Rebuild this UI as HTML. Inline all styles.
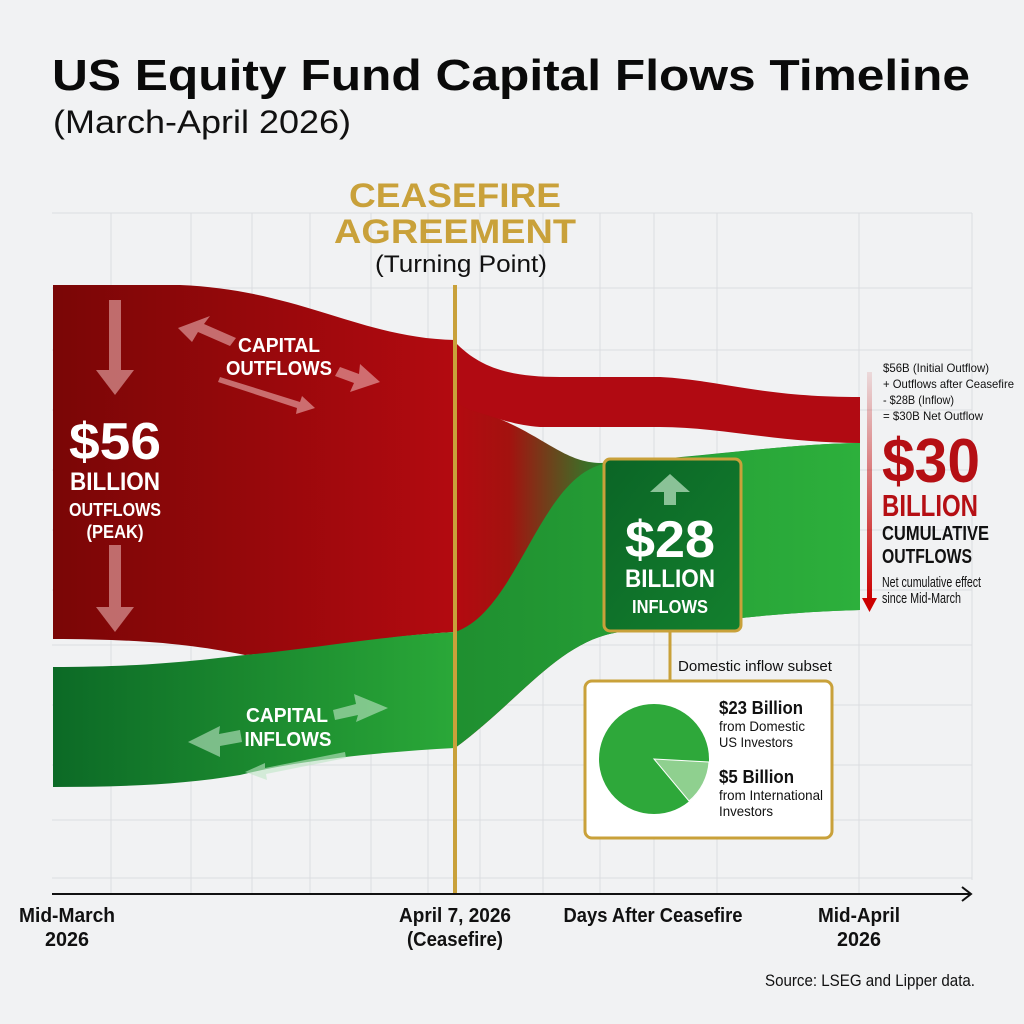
<!DOCTYPE html>
<html><head><meta charset="utf-8"><style>
html,body{margin:0;padding:0;background:#f1f2f3;}
svg{display:block;font-family:"Liberation Sans Narrow","Liberation Sans",sans-serif;}
</style></head><body>
<svg width="1024" height="1024" viewBox="0 0 1024 1024" xmlns="http://www.w3.org/2000/svg">
<defs>
<linearGradient id="redL" x1="0" x2="1" y1="0" y2="0"><stop offset="0" stop-color="#7a0606"/><stop offset="1" stop-color="#b30a10"/></linearGradient>
<linearGradient id="grnL" x1="0" x2="1" y1="0" y2="0"><stop offset="0" stop-color="#0c6a26"/><stop offset="1" stop-color="#2aa838"/></linearGradient>
<linearGradient id="wedge" x1="455" x2="610" y1="0" y2="0" gradientUnits="userSpaceOnUse"><stop offset="0" stop-color="#b30a10"/><stop offset="0.35" stop-color="#a3120f"/><stop offset="1" stop-color="#1e8a2e"/></linearGradient>
<linearGradient id="grnR" x1="0" x2="1" y1="0" y2="0"><stop offset="0" stop-color="#1f8f30"/><stop offset="1" stop-color="#2db03c"/></linearGradient>
<linearGradient id="boxg" x1="0" x2="1" y1="0" y2="1"><stop offset="0" stop-color="#0b6526"/><stop offset="1" stop-color="#13802e"/></linearGradient>
<linearGradient id="arrR" x1="0" x2="0" y1="0" y2="1"><stop offset="0" stop-color="#b00" stop-opacity="0.1"/><stop offset="1" stop-color="#c00"/></linearGradient>
</defs>
<!-- grid -->
<g stroke="#dcdde0" stroke-width="1">
<line x1="111" y1="213" x2="111" y2="893"/><line x1="191" y1="213" x2="191" y2="893"/><line x1="252" y1="213" x2="252" y2="893"/><line x1="310" y1="213" x2="310" y2="893"/><line x1="371" y1="213" x2="371" y2="893"/><line x1="428" y1="213" x2="428" y2="893"/><line x1="480" y1="213" x2="480" y2="893"/><line x1="543" y1="213" x2="543" y2="893"/><line x1="600" y1="213" x2="600" y2="893"/><line x1="654" y1="213" x2="654" y2="893"/><line x1="717" y1="213" x2="717" y2="893"/><line x1="859" y1="213" x2="859" y2="893"/><line x1="972" y1="213" x2="972" y2="880"/>
<line x1="52" y1="213" x2="972" y2="213"/><line x1="52" y1="288" x2="972" y2="288"/><line x1="52" y1="350" x2="972" y2="350"/><line x1="52" y1="410" x2="972" y2="410"/><line x1="52" y1="470" x2="972" y2="470"/><line x1="52" y1="530" x2="972" y2="530"/><line x1="52" y1="590" x2="972" y2="590"/><line x1="52" y1="645" x2="972" y2="645"/><line x1="52" y1="705" x2="972" y2="705"/><line x1="52" y1="765" x2="972" y2="765"/><line x1="52" y1="820" x2="972" y2="820"/><line x1="52" y1="878" x2="972" y2="878"/>
</g>
<!-- title -->
<text x="52" y="90" font-family="Liberation Sans" font-weight="bold" font-size="44" fill="#0a0a0a" textLength="918" lengthAdjust="spacingAndGlyphs">US Equity Fund Capital Flows Timeline</text>
<text x="53" y="133" font-family="Liberation Sans" font-size="32" fill="#111" textLength="298" lengthAdjust="spacingAndGlyphs">(March-April 2026)</text>
<!-- red main -->
<path d="M53,285 L180,285 C300,290 360,338 455,340 L455,632 C380,636 320,650 245,655 C200,646 150,639 53,639 Z" fill="url(#redL)"/>
<!-- wedge / right green -->
<path d="M455,400 L475,410 C540,430 560,462 600,463 C700,458 780,444 860,443 L860,610 C780,612 700,622 620,632 C560,640 520,700 455,748 Z" fill="url(#wedge)"/>
<path d="M455,632 C520,610 540,470 610,463 C700,458 780,444 860,443 L860,610 C780,612 700,622 620,632 C560,640 520,700 455,748 Z" fill="url(#grnR)"/>
<!-- red thin band -->
<path d="M455,342 C480,368 510,377 560,377 L660,377 C720,380 760,397 860,397 L860,443 C780,443 720,427 660,427 L540,427 C510,425 490,415 470,410 L455,402 Z" fill="#b10a12"/>
<!-- green left band -->
<path d="M53,667 C150,667 200,660 245,655 C320,648 380,636 455,632 L455,748 C380,752 300,760 240,775 C180,785 120,787 53,787 Z" fill="url(#grnL)"/>
<!-- gold line -->
<rect x="453" y="285" width="4" height="610" fill="#c9a13a"/>
<!-- axis -->
<line x1="52" y1="894" x2="970" y2="894" stroke="#111" stroke-width="2"/>
<path d="M962,887 L971,894 L962,901" fill="none" stroke="#111" stroke-width="2"/>
<!-- arrows on red -->
<g fill="#f3c0c0" opacity="0.55">
<rect x="109" y="300" width="12" height="70"/><polygon points="96,370 134,370 115,395"/>
<rect x="109" y="545" width="12" height="62"/><polygon points="96,607 134,607 115,632"/>
<polygon points="178,328 210,316 204,324 236,338 230,346 198,332 192,342"/>
<polygon points="380,382 350,392 354,383 335,376 340,367 359,374 360,364"/>
<polygon points="315,408 296,414 297,408 218,382 220,377 300,402 302,396"/>
</g>
<g fill="#bfe6c6" opacity="0.6">
<polygon points="388,708 356,722 358,715 335,720 333,710 356,704 354,694"/>
<polygon points="188,742 220,726 219,734 240,730 242,742 220,746 220,757"/>
<polygon points="245,772 265,763 265,768 345,752 346,758 266,774 267,780"/>
<rect x="664" y="490" width="12" height="15"/><polygon points="650,492 690,492 670,474"/>
</g>
<!-- red labels -->
<g fill="#fff" font-weight="bold" text-anchor="middle">
<text x="115" y="459" font-size="52" textLength="92" lengthAdjust="spacingAndGlyphs">$56</text>
<text x="115" y="490" font-size="25" textLength="90" lengthAdjust="spacingAndGlyphs">BILLION</text>
<text x="115" y="516" font-size="18" textLength="92" lengthAdjust="spacingAndGlyphs">OUTFLOWS</text>
<text x="115" y="538" font-size="18" textLength="57" lengthAdjust="spacingAndGlyphs">(PEAK)</text>
<text x="279" y="352" font-size="20" textLength="82" lengthAdjust="spacingAndGlyphs">CAPITAL</text>
<text x="279" y="375" font-size="20" textLength="106" lengthAdjust="spacingAndGlyphs">OUTFLOWS</text>
<text x="287" y="722" font-size="20" textLength="82" lengthAdjust="spacingAndGlyphs">CAPITAL</text>
<text x="288" y="746" font-size="20" textLength="87" lengthAdjust="spacingAndGlyphs">INFLOWS</text>
</g>
<!-- ceasefire heading -->
<g text-anchor="middle" font-weight="bold" fill="#c9a13a" font-family="Liberation Sans">
<text x="455" y="207" font-size="34" textLength="212" lengthAdjust="spacingAndGlyphs">CEASEFIRE</text>
<text x="455" y="243" font-size="34" textLength="242" lengthAdjust="spacingAndGlyphs">AGREEMENT</text>
</g>
<text x="461" y="272" font-size="24" text-anchor="middle" fill="#111" textLength="172" lengthAdjust="spacingAndGlyphs">(Turning Point)</text>
<!-- $28 box -->
<line x1="670" y1="632" x2="670" y2="682" stroke="#c9a13a" stroke-width="3"/>
<rect x="604" y="459" width="137" height="172" rx="6" fill="url(#boxg)" stroke="#c9a13a" stroke-width="3"/>
<g fill="#bfe6c6" opacity="0.7"><rect x="664" y="490" width="12" height="15"/><polygon points="650,492 690,492 670,474"/></g>
<g fill="#fff" font-weight="bold" text-anchor="middle">
<text x="670" y="557" font-size="52" textLength="90" lengthAdjust="spacingAndGlyphs">$28</text>
<text x="670" y="587" font-size="25" textLength="90" lengthAdjust="spacingAndGlyphs">BILLION</text>
<text x="670" y="613" font-size="18" textLength="76" lengthAdjust="spacingAndGlyphs">INFLOWS</text>
</g>
<!-- pie box -->
<text x="678" y="671" font-size="15" fill="#111" textLength="154" lengthAdjust="spacingAndGlyphs">Domestic inflow subset</text>
<rect x="585" y="681" width="247" height="157" rx="7" fill="#fff" stroke="#c9a13a" stroke-width="3"/>
<circle cx="654" cy="759" r="55" fill="#2ea83a"/>
<path d="M654,759 L709,762 A55,55 0 0 1 689,801 Z" fill="#8fd08f" stroke="#fff" stroke-width="1"/>
<g fill="#111">
<text x="719" y="714" font-size="18" font-weight="bold" textLength="84" lengthAdjust="spacingAndGlyphs">$23 Billion</text>
<text x="719" y="731" font-size="14" textLength="86" lengthAdjust="spacingAndGlyphs">from Domestic</text>
<text x="719" y="747" font-size="14" textLength="74" lengthAdjust="spacingAndGlyphs">US Investors</text>
<text x="719" y="783" font-size="18" font-weight="bold" textLength="75" lengthAdjust="spacingAndGlyphs">$5 Billion</text>
<text x="719" y="800" font-size="14" textLength="104" lengthAdjust="spacingAndGlyphs">from International</text>
<text x="719" y="816" font-size="14" textLength="54" lengthAdjust="spacingAndGlyphs">Investors</text>
</g>
<!-- right panel -->
<rect x="867" y="372" width="5" height="228" fill="url(#arrR)"/>
<polygon points="862,598 877,598 869.5,612" fill="#c00"/>
<g fill="#111" font-size="12">
<text x="883" y="372" textLength="106" lengthAdjust="spacingAndGlyphs">$56B (Initial Outflow)</text>
<text x="883" y="388" textLength="131" lengthAdjust="spacingAndGlyphs">+ Outflows after Ceasefire</text>
<text x="883" y="404" textLength="71" lengthAdjust="spacingAndGlyphs">- $28B (Inflow)</text>
<text x="883" y="420" textLength="100" lengthAdjust="spacingAndGlyphs">= $30B Net Outflow</text>
</g>
<text x="882" y="482" font-size="62" font-weight="bold" fill="#b50f14" textLength="98" lengthAdjust="spacingAndGlyphs">$30</text>
<text x="882" y="516" font-size="31" font-weight="bold" fill="#b50f14" textLength="96" lengthAdjust="spacingAndGlyphs">BILLION</text>
<text x="882" y="540" font-size="20" font-weight="bold" fill="#111" textLength="107" lengthAdjust="spacingAndGlyphs">CUMULATIVE</text>
<text x="882" y="563" font-size="20" font-weight="bold" fill="#111" textLength="90" lengthAdjust="spacingAndGlyphs">OUTFLOWS</text>
<text x="882" y="587" font-size="15" fill="#111" textLength="99" lengthAdjust="spacingAndGlyphs">Net cumulative effect</text>
<text x="882" y="603" font-size="15" fill="#111" textLength="79" lengthAdjust="spacingAndGlyphs">since Mid-March</text>
<!-- axis labels -->
<g fill="#111" font-weight="bold" font-size="20" text-anchor="middle">
<text x="67" y="922" textLength="96" lengthAdjust="spacingAndGlyphs">Mid-March</text>
<text x="67" y="946" textLength="44" lengthAdjust="spacingAndGlyphs">2026</text>
<text x="455" y="922" textLength="112" lengthAdjust="spacingAndGlyphs">April 7, 2026</text>
<text x="455" y="946" textLength="96" lengthAdjust="spacingAndGlyphs">(Ceasefire)</text>
<text x="653" y="922" textLength="179" lengthAdjust="spacingAndGlyphs">Days After Ceasefire</text>
<text x="859" y="922" textLength="82" lengthAdjust="spacingAndGlyphs">Mid-April</text>
<text x="859" y="946" textLength="44" lengthAdjust="spacingAndGlyphs">2026</text>
</g>
<text x="975" y="986" font-size="17" fill="#111" text-anchor="end" textLength="210" lengthAdjust="spacingAndGlyphs">Source: LSEG and Lipper data.</text>
</svg>
</body></html>
